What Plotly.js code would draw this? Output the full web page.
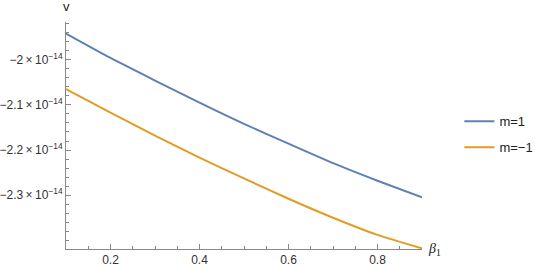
<!DOCTYPE html>
<html>
<head>
<meta charset="utf-8">
<script src="https://cdn.plot.ly/plotly-3.0.1.min.js"></script>
<style>
  html, body { margin: 0; padding: 0; background: #fff; }
  #chart { width: 550px; height: 268px; }
</style>
</head>
<body>
<div id="chart"></div>
<script>
// beta_1 values along the x axis
let beta = [0.1, 0.2, 0.3, 0.4, 0.5, 0.6, 0.7, 0.8, 0.9]

// v for each case, in units of 1e-14
let vPlus = [-1.942, -1.996, -2.046, -2.095, -2.142, -2.186, -2.229, -2.268, -2.305]
let vMinus = [-2.065, -2.117, -2.168, -2.217, -2.263, -2.308, -2.350, -2.388, -2.418]

let seriesNames = ['m=1', 'm=\u22121']

// y tick values and their labels
let yTickVals = [-2.0, -2.1, -2.2, -2.3]
let yTickText = yTickVals.map(v => '\u2212' + Math.abs(v).toString() + '\u2009\u00d7\u200910<sup>\u221214</sup>')

let scale = v => v * 1e-14

let traces = [
    {
        x: beta,
        y: vPlus.map(scale),
        type: 'scatter',
        mode: 'lines',
        name: seriesNames[0],
        legendgroup: 'a',
        line: {color: '#5E81B5', width: 2, shape: 'spline', smoothing: 0.6}
    },
    {
        x: beta,
        y: vMinus.map(scale),
        type: 'scatter',
        mode: 'lines',
        name: seriesNames[1],
        legendgroup: 'b',
        line: {color: '#E19C24', width: 2, shape: 'spline', smoothing: 0.6}
    }
]

let axisFont = {family: 'Liberation Sans, Arial, sans-serif', size: 12, color: '#333'}

let layout = {
    width: 550,
    height: 268,
    margin: {l: 66, r: 123, t: 22, b: 19},
    paper_bgcolor: '#fff',
    plot_bgcolor: '#fff',
    font: axisFont,
    showlegend: true,
    legend: {
        x: 1.105, y: 0.505, xanchor: 'left', yanchor: 'middle',
        font: {family: 'Liberation Sans, Arial, sans-serif', size: 13, color: '#222'},
        tracegroupgap: 6,
        bgcolor: 'rgba(0,0,0,0)'
    },
    xaxis: {
        range: [0.1, 0.9],
        tickvals: [0.2, 0.4, 0.6, 0.8],
        ticktext: ['0.2', '0.4', '0.6', '0.8'],
        ticks: 'inside',
        ticklen: 5,
        tickcolor: '#888',
        tickwidth: 1,
        minor: {dtick: 0.05, tick0: 0.1, ticks: 'inside', ticklen: 3, tickcolor: '#888'},
        showline: true,
        linecolor: '#888',
        linewidth: 1,
        showgrid: false,
        zeroline: false,
        tickfont: axisFont
    },
    yaxis: {
        range: [-2.4193e-14, -1.9163e-14],
        tickvals: yTickVals.map(scale),
        ticktext: yTickText,
        ticks: 'inside',
        ticklen: 5,
        tickcolor: '#888',
        tickwidth: 1,
        minor: {dtick: 0.02e-14, tick0: -2e-14, ticks: 'inside', ticklen: 3, tickcolor: '#888'},
        showline: true,
        linecolor: '#888',
        linewidth: 1,
        showgrid: false,
        zeroline: false,
        tickfont: axisFont
    },
    annotations: [
        {
            text: 'v', xref: 'paper', yref: 'paper', x: 0, y: 1,
            xanchor: 'center', yanchor: 'bottom', yshift: 6, showarrow: false,
            font: {family: 'Liberation Sans, Arial, sans-serif', size: 13, color: '#222'}
        },
        {
            text: '<i>\u03b2</i><sub>1</sub>', xref: 'paper', yref: 'paper', x: 1, y: 0,
            xanchor: 'left', yanchor: 'middle', xshift: 4, showarrow: false,
            font: {family: 'Liberation Serif, serif', size: 14, color: '#222'}
        }
    ]
}

Plotly.newPlot('chart', traces, layout, {displayModeBar: false, staticPlot: true})
</script>
</body>
</html>
